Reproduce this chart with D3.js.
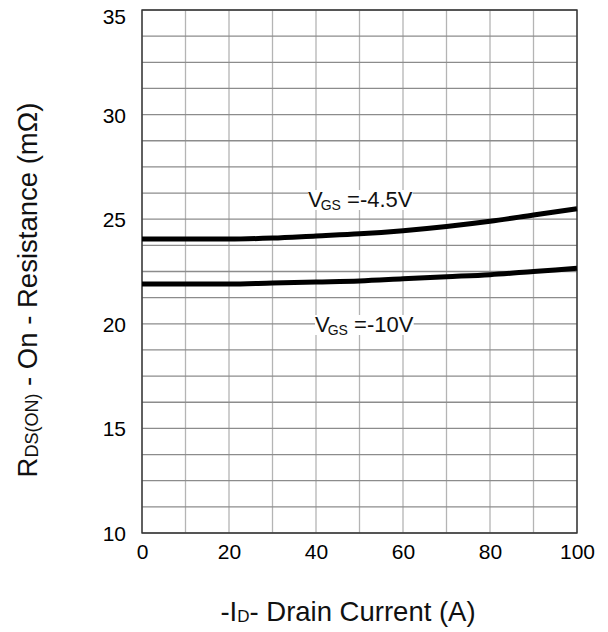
<!DOCTYPE html>
<html>
<head>
<meta charset="utf-8">
<script src="https://cdn.jsdelivr.net/npm/d3@7"></script>
<style>
  html, body { margin: 0; padding: 0; background: #fff; }
  svg { display: block; font-family: Arial, "Liberation Sans", sans-serif; }
</style>
</head>
<body>
<svg id="chart" width="608" height="632"></svg>
<script>
// Drain current (A), -I_D
const drainCurrent = [0, 10, 20, 30, 40, 50, 60, 70, 80, 90, 100];
// R_DS(ON) in mΩ for each gate drive
const rdsVgs45 = [24.05, 24.05, 24.05, 24.1, 24.2, 24.3, 24.45, 24.65, 24.9, 25.2, 25.5];
const rdsVgs10 = [21.9, 21.9, 21.9, 21.95, 22.0, 22.05, 22.15, 22.25, 22.35, 22.5, 22.65];
const xTicks = [0, 20, 40, 60, 80, 100];
const yTicks = [10, 15, 20, 25, 30, 35];
const xGrid = d3.range(0, 101, 10);
const yGrid = d3.range(0, 21).map(i => 10 + i * 1.25);

const svg = d3.select("#chart");
const x = d3.scaleLinear().domain([0, 100]).range([142, 577]);
const y = d3.scaleLinear().domain([10, 35]).range([533, 10]);

// grid
svg.append("g").selectAll("line").data(xGrid).join("line")
  .attr("x1", d => x(d)).attr("x2", d => x(d))
  .attr("y1", y(10)).attr("y2", y(35))
  .attr("stroke", "#b4b4b4").attr("stroke-width", 1.3);
svg.append("g").selectAll("line").data(yGrid).join("line")
  .attr("x1", x(0)).attr("x2", x(100))
  .attr("y1", d => y(d)).attr("y2", d => y(d))
  .attr("stroke", "#8c8c8c").attr("stroke-width", 1.3);

// frame
svg.append("rect")
  .attr("x", x(0)).attr("y", y(35))
  .attr("width", x(100) - x(0)).attr("height", y(10) - y(35))
  .attr("fill", "none").attr("stroke", "#333").attr("stroke-width", 1.4);

// axes (labels only, the frame carries the lines)
const xAxis = svg.append("g").attr("transform", `translate(0,${y(10)})`)
  .call(d3.axisBottom(x).tickValues(xTicks).tickSize(0).tickPadding(11));
const yAxis = svg.append("g").attr("transform", `translate(${x(0)},0)`)
  .call(d3.axisLeft(y).tickValues(yTicks).tickSize(0).tickPadding(16));
[xAxis, yAxis].forEach(a => {
  a.select(".domain").remove();
  a.selectAll("text").attr("font-size", 21).attr("fill", "#000")
    .attr("font-family", "Arial, 'Liberation Sans', sans-serif");
});
yAxis.selectAll("text").attr("dy", d => d === 35 ? "0.62em" : "0.36em");

// curves
const line = d3.line()
  .x((d, i) => x(drainCurrent[i]))
  .y(d => y(d))
  .curve(d3.curveMonotoneX);
[rdsVgs45, rdsVgs10].forEach(s => {
  svg.append("path").datum(s)
    .attr("d", line)
    .attr("fill", "none").attr("stroke", "#000")
    .attr("stroke-width", 5).attr("stroke-linecap", "butt");
});

// series labels
function vgsLabel(px, py, value) {
  const g = svg.append("g");
  const bg = g.append("rect").attr("fill", "#fff");
  const t = g.append("text").attr("x", px).attr("y", py)
    .attr("font-size", 22).attr("fill", "#111");
  t.append("tspan").text("V");
  t.append("tspan").attr("font-size", 14).attr("dy", 3).attr("dx", -2).text("GS");
  t.append("tspan").attr("dy", -3).text(" =" + value);
  const b = t.node().getBBox();
  bg.attr("x", b.x).attr("y", b.y + 3).attr("width", b.width).attr("height", b.height - 6);
}
vgsLabel(308, 207, "-4.5V");
vgsLabel(315, 332, "-10V");

// axis titles
const xt = svg.append("text").attr("x", 348).attr("y", 621)
  .attr("text-anchor", "middle").attr("font-size", 27.5).attr("fill", "#111");
xt.append("tspan").text("-I");
xt.append("tspan").attr("font-size", 17).attr("dy", 1).text("D");
xt.append("tspan").attr("dy", -1).text("- Drain Current (A)");

const yt = svg.append("text")
  .attr("transform", "translate(37,290) rotate(-90)")
  .attr("text-anchor", "middle").attr("font-size", 27.5).attr("fill", "#111");
yt.append("tspan").text("R");
yt.append("tspan").attr("font-size", 18).attr("dy", 1).text("DS(ON)");
yt.append("tspan").attr("dy", -1).text(" - On - Resistance (mΩ)");
</script>
</body>
</html>
